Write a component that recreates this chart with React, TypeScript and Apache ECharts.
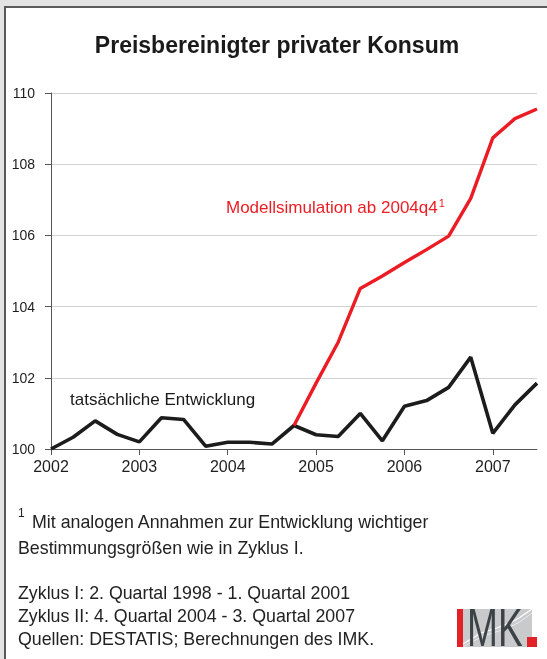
import React, { useEffect, useRef } from "react";
import * as echarts from "echarts";

const quarters = [
  "2002q1", "2002q2", "2002q3", "2002q4",
  "2003q1", "2003q2", "2003q3", "2003q4",
  "2004q1", "2004q2", "2004q3", "2004q4",
  "2005q1", "2005q2", "2005q3", "2005q4",
  "2006q1", "2006q2", "2006q3", "2006q4",
  "2007q1", "2007q2", "2007q3",
];

const actual = [
  100.0, 100.33, 100.79, 100.41,
  100.2, 100.88, 100.83, 100.08,
  100.19, 100.19, 100.14, 100.66,
  100.4, 100.35, 101.0, 100.23,
  101.2, 101.36, 101.73, 102.58,
  100.44, 101.24, 101.85,
];

// model simulation from 2004q4 on (null before)
const simulation = [
  null, null, null, null,
  null, null, null, null,
  null, null, null, 100.66,
  101.85, 103.0, 104.51, 104.86,
  105.24, 105.6, 105.98, 107.04,
  108.74, 109.28, 109.55,
];

const yearTicks = ["2002", "2003", "2004", "2005", "2006", "2007"];

const titleText = "Preisbereinigter privater Konsum";
const simLabel = "Modellsimulation ab 2004q4";
const actualLabel = "tatsächliche Entwicklung";
const footLines = [
  "Mit analogen Annahmen zur Entwicklung wichtiger",
  "Bestimmungsgrößen wie in Zyklus I.",
];
const sourceLines = [
  "Zyklus I: 2. Quartal 1998 - 1. Quartal 2001",
  "Zyklus II: 4. Quartal 2004 - 3. Quartal 2007",
  "Quellen: DESTATIS; Berechnungen des IMK.",
];

function quarterPos(q: string): number {
  const y = parseInt(q.slice(0, 4), 10);
  const k = parseInt(q.slice(5), 10);
  return y + (k - 1) * 0.25;
}

const FONT = '"Liberation Sans", Arial, sans-serif';

export default function App() {
  const ref = useRef<HTMLDivElement>(null);
  useEffect(() => {
    if (!ref.current) return;
    const chart = echarts.init(ref.current, undefined, { renderer: "svg" });
    const actualData = quarters.map((q, i) => [quarterPos(q), actual[i]]);
    const simData = quarters
      .map((q, i) => [quarterPos(q), simulation[i]])
      .filter((d) => d[1] !== null);
    const firstYear = parseInt(yearTicks[0], 10);
    const lastQ = quarterPos(quarters[quarters.length - 1]);

    const option: any = {
      animation: false,
      backgroundColor: "transparent",
      textStyle: { fontFamily: FONT },
      grid: { left: 51, right: 10, top: 93, bottom: 210, containLabel: false },
      xAxis: {
        type: "value",
        min: firstYear,
        max: lastQ,
        interval: 1,
        axisLine: { show: true, lineStyle: { color: "#555", width: 1 } },
        axisTick: { show: true, inside: false, length: 6, lineStyle: { color: "#555" } },
        splitLine: { show: false },
        axisLabel: {
          color: "#1e1e1e",
          fontSize: 16,
          fontFamily: FONT,
          margin: 9,
          showMaxLabel: false,
          formatter: (v: number) => (Number.isInteger(v) && yearTicks.includes(String(v)) ? String(v) : ""),
        },
      },
      yAxis: {
        type: "value",
        min: 100,
        max: 110,
        interval: 2,
        axisLine: { show: true, lineStyle: { color: "#555", width: 1 } },
        axisTick: { show: true, inside: false, length: 6, lineStyle: { color: "#555" } },
        splitLine: { show: true, lineStyle: { color: "#d2d2d2", width: 1 } },
        axisLabel: { color: "#1e1e1e", fontSize: 14, fontFamily: FONT, margin: 16 },
      },
      series: [
        {
          type: "line",
          data: actualData,
          symbol: "none",
          lineStyle: { color: "#1c1c1c", width: 3.6 },
          z: 2,
        },
        {
          type: "line",
          data: simData,
          symbol: "none",
          lineStyle: { color: "#ec1c24", width: 3.4 },
          z: 3,
        },
      ],
      graphic: [
        { type: "rect", z: -20, silent: true, shape: { x: 0, y: 0, width: 547, height: 659 }, style: { fill: "#e3e3e3" } },
        { type: "rect", z: -19, silent: true, shape: { x: 5, y: 7, width: 600, height: 700 }, style: { fill: "#ffffff", stroke: "#5a5a5a", lineWidth: 2 } },
        {
          type: "text", x: 277, y: 45, silent: true,
          style: { text: titleText, font: `bold 23px ${FONT}`, fill: "#1a1a1a", align: "center", verticalAlign: "middle" },
        },
        {
          type: "text", x: 226, y: 207, silent: true,
          style: {
            text: `{a|${simLabel}}{s|1}`,
            align: "left", verticalAlign: "middle",
            rich: {
              a: { fontSize: 17, fontFamily: FONT, fill: "#ec1c24", color: "#ec1c24" },
              s: { fontSize: 11, fontFamily: FONT, fill: "#ec1c24", color: "#ec1c24", verticalAlign: "top", padding: [0, 0, 9, 1] },
            },
          },
        },
        {
          type: "text", x: 70, y: 399, silent: true,
          style: { text: actualLabel, font: `17px ${FONT}`, fill: "#1a1a1a", align: "left", verticalAlign: "middle" },
        },
        {
          type: "text", x: 18, y: 513, silent: true,
          style: { text: "1", font: `12px ${FONT}`, fill: "#222", align: "left", verticalAlign: "middle" },
        },
        {
          type: "text", x: 32, y: 522, silent: true,
          style: { text: footLines[0], font: `17.8px ${FONT}`, fill: "#222", align: "left", verticalAlign: "middle" },
        },
        {
          type: "text", x: 18, y: 548, silent: true,
          style: { text: footLines[1], font: `17.8px ${FONT}`, fill: "#222", align: "left", verticalAlign: "middle" },
        },
        ...sourceLines.map((t, i) => ({
          type: "text", x: 18, y: 593 + i * 23, silent: true,
          style: { text: t, font: `17.8px ${FONT}`, fill: "#222", align: "left", verticalAlign: "middle" },
        })),
        {
          type: "group", x: 457, y: 609, silent: true,
          children: [
            { type: "rect", shape: { x: 0, y: 0, width: 75, height: 38 }, style: { fill: "#c8cacc" } },
            { type: "polyline", shape: { points: [[6, 35], [24, 24], [40, 19], [55, 13], [62, 9], [75, 0]] }, style: { stroke: "#ffffff", lineWidth: 1.3, fill: null } },
            { type: "polyline", shape: { points: [[6, 38], [26, 27], [42, 22], [57, 16], [64, 12], [75, 4]] }, style: { stroke: "#f2f2f2", lineWidth: 0.8, fill: null } },
            { type: "rect", shape: { x: 0, y: 0, width: 6, height: 38 }, style: { fill: "#e32228" } },
            {
              type: "text", x: 10, y: 19, scaleX: 0.7,
              style: { text: "MK", font: `53px ${FONT}`, fill: "#3c4246", align: "left", verticalAlign: "middle" },
            },
            { type: "rect", shape: { x: 70, y: 28, width: 10, height: 10 }, style: { fill: "#e32228" } },
          ],
        },
      ],
    };
    chart.setOption(option);
    return () => chart.dispose();
  }, []);
  return (
    <div
      ref={ref}
      style={{ position: "fixed", left: 0, top: 0, width: 547, height: 659 }}
    />
  );
}
